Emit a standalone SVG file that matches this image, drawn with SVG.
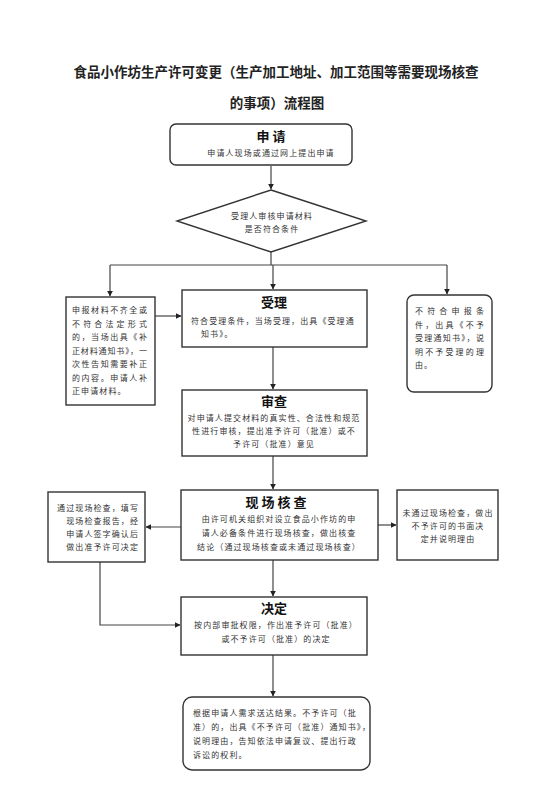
<svg xmlns="http://www.w3.org/2000/svg" width="551" height="808" viewBox="0 0 551 808">
<style>
.box{fill:#fff;stroke:#333;stroke-width:1.4}
.ln{fill:none;stroke:#444;stroke-width:1.2}
.t{font-family:"Noto Sans CJK SC","Noto Sans",sans-serif;font-size:8px;fill:#333;letter-spacing:1.1px}
.h{font-family:"Noto Sans CJK SC","Noto Sans",sans-serif;font-size:13px;font-weight:bold;fill:#111;text-anchor:middle}
.title{font-family:"Noto Sans CJK SC","Noto Sans",sans-serif;font-size:13.5px;font-weight:bold;fill:#222;text-anchor:middle}
.c{text-anchor:middle}
</style>
<defs>
<marker id="ar" viewBox="0 0 10 10" refX="9" refY="5" markerWidth="5" markerHeight="5" orient="auto"><path d="M0,0 L10,5 L0,10 z" fill="#222"/></marker>
</defs>
<rect width="551" height="808" fill="#fff"/>
<text class="title" x="276" y="77">食品小作坊生产许可变更（生产加工地址、加工范围等需要现场核查</text>
<text class="title" x="277" y="108">的事项）流程图</text>

<g id="connectors">
<path class="ln" d="M271,166 V189" marker-end="url(#ar)"/>
<path class="ln" d="M271,252 V265 M110,265 H447"/>
<path class="ln" d="M110,265 V296" marker-end="url(#ar)"/>
<path class="ln" d="M273,265 V289" marker-end="url(#ar)"/>
<path class="ln" d="M447,265 V294" marker-end="url(#ar)"/>
<path class="ln" d="M155,316 H181" marker-end="url(#ar)"/>
<path class="ln" d="M273,347 V389" marker-end="url(#ar)"/>
<path class="ln" d="M273,456 V489" marker-end="url(#ar)"/>
<path class="ln" d="M181,527 H146" marker-end="url(#ar)"/>
<path class="ln" d="M378,525 H396" marker-end="url(#ar)"/>
<path class="ln" d="M100,562 V625 H180" marker-end="url(#ar)"/>
<path class="ln" d="M273,560 V596" marker-end="url(#ar)"/>
<path class="ln" d="M273,655 V696" marker-end="url(#ar)"/>
</g>

<g id="apply">
<rect class="box" x="170" y="124" width="182" height="41" rx="6"/>
<text class="h" x="271" y="141">申 请</text>
<text class="t c" x="271" y="156">申请人现场或通过网上提出申请</text>
</g>

<g id="check">
<polygon class="box" points="271,190 366,221 271,252 177,221"/>
<text class="t c" x="272" y="219">受理人审核申请材料</text>
<text class="t c" x="272" y="232">是否符合条件</text>
</g>

<g id="supplement">
<rect class="box" x="66" y="297" width="89" height="108"/>
<text class="t" x="72" y="313" textLength="76" lengthAdjust="spacing">申报材料不齐全或</text>
<text class="t" x="72" y="326.5" textLength="76" lengthAdjust="spacing">不符合法定形式</text>
<text class="t" x="72" y="340" textLength="76" lengthAdjust="spacing">的，当场出具《补</text>
<text class="t" x="72" y="353.5" textLength="76" lengthAdjust="spacing">正材料通知书》，一</text>
<text class="t" x="72" y="367" textLength="76" lengthAdjust="spacing">次性告知需要补正</text>
<text class="t" x="72" y="380.5" textLength="76" lengthAdjust="spacing">的内容。申请人补</text>
<text class="t" x="72" y="394">正申请材料。</text>
</g>

<g id="accept">
<rect class="box" x="182" y="290" width="185" height="57"/>
<text class="h" x="274" y="307">受理</text>
<text class="t" x="191" y="324">符合受理条件，当场受理，出具《受理通</text>
<text class="t" x="201" y="337">知书》。</text>
</g>

<g id="reject">
<rect class="box" x="407" y="295" width="85" height="97" rx="7"/>
<text class="t" x="415" y="314" textLength="70" lengthAdjust="spacing">不符合申报条</text>
<text class="t" x="415" y="327.5" textLength="70" lengthAdjust="spacing">件，出具《不予</text>
<text class="t" x="415" y="341" textLength="70" lengthAdjust="spacing">受理通知书》，说</text>
<text class="t" x="415" y="354.5" textLength="70" lengthAdjust="spacing">明不予受理的理</text>
<text class="t" x="415" y="368">由。</text>
</g>

<g id="review">
<rect class="box" x="182" y="390" width="185" height="66"/>
<text class="h" x="274" y="406">审查</text>
<text class="t c" x="274" y="421">对申请人提交材料的真实性、合法性和规范</text>
<text class="t c" x="274" y="434">性进行审核，提出准予许可（批准）或不</text>
<text class="t c" x="274" y="447">予许可（批准）意见</text>
</g>

<g id="inspect">
<rect class="box" x="181" y="490" width="197" height="70"/>
<text class="h" x="276" y="507">现 场 核 查</text>
<text class="t c" x="279" y="522">由许可机关组织对设立食品小作坊的申</text>
<text class="t c" x="279" y="536">请人必备条件进行现场核查，做出核查</text>
<text class="t c" x="279" y="550">结论（通过现场核查或未通过现场核查）</text>
</g>

<g id="pass">
<rect class="box" x="48" y="492" width="97" height="70"/>
<text class="t" x="139" y="511" text-anchor="end">通过现场检查，填写</text>
<text class="t" x="139" y="524" text-anchor="end">现场检查报告，经</text>
<text class="t" x="139" y="537" text-anchor="end">申请人签字确认后</text>
<text class="t" x="139" y="550" text-anchor="end">做出准予许可决定</text>
</g>

<g id="fail">
<rect class="box" x="397" y="490" width="101" height="70"/>
<text class="t c" x="448" y="516">未通过现场检查，做出</text>
<text class="t c" x="448" y="529">不予许可的书面决</text>
<text class="t c" x="448" y="542">定并说明理由</text>
</g>

<g id="decide">
<rect class="box" x="181" y="597" width="186" height="58"/>
<text class="h" x="274" y="613">决定</text>
<text class="t c" x="276" y="628">按内部审批权限，作出准予许可（批准）</text>
<text class="t c" x="276" y="642">或不予许可（批准）的决定</text>
</g>

<g id="deliver">
<rect class="box" x="183" y="697" width="187" height="73" rx="9"/>
<text class="t" x="193" y="716">根据申请人需求送达结果。不予许可（批</text>
<text class="t" x="193" y="730">准）的，出具《不予许可（批准）通知书》，</text>
<text class="t" x="193" y="744">说明理由，告知依法申请复议、提出行政</text>
<text class="t" x="193" y="758">诉讼的权利。</text>
</g>
</svg>
